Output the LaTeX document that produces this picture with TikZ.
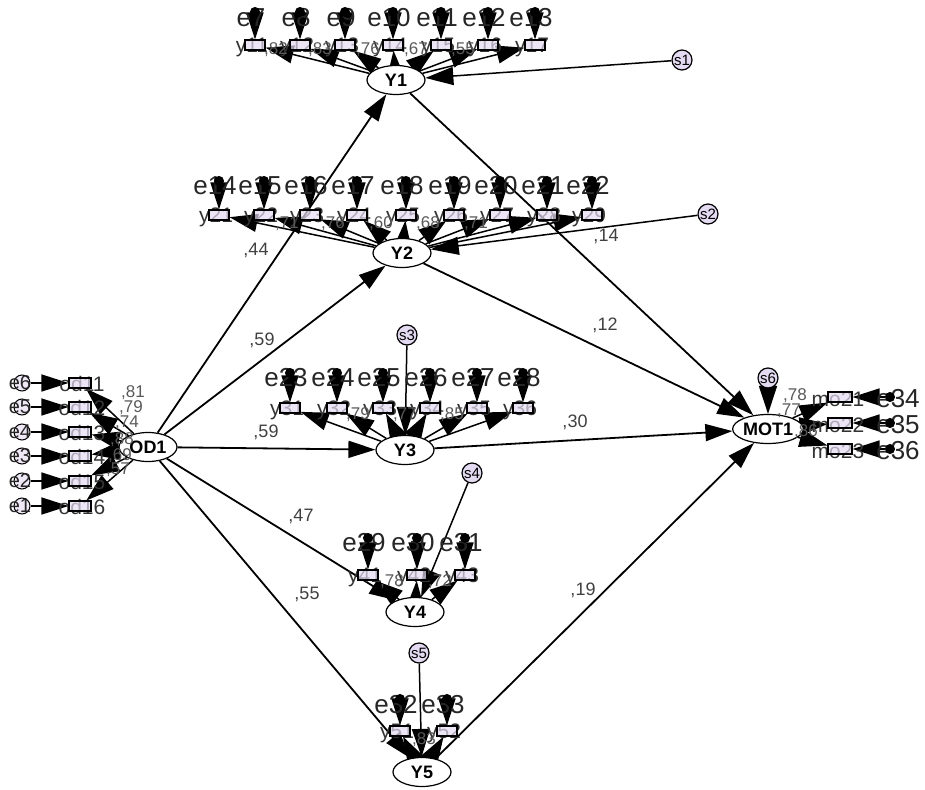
\documentclass[tikz,border=0pt]{standalone}
\usepackage{fontspec}
\setmainfont{Liberation Sans}
\usetikzlibrary{arrows.meta,shapes.geometric}
\definecolor{lav}{RGB}{228,218,242}
\pgfdeclarelayer{bg}
\pgfsetlayers{bg,main}
\begin{document}
\begin{tikzpicture}[x=1pt,y=-1pt,
 lat/.style={ellipse,draw,fill=white,line width=1.2pt,minimum width=58pt,minimum height=29pt,inner sep=0pt,font=\bfseries\fontsize{18}{18}\selectfont},
 ind/.style={draw,fill=lav,fill opacity=0.7,line width=1.1pt,minimum width=20pt,minimum height=10pt,inner sep=0pt},
 err/.style={circle,draw,fill=black,line width=1pt,minimum size=9pt,inner sep=0pt},
 errb/.style={circle,draw,fill=lav,fill opacity=0.6,line width=1pt,minimum size=16pt,inner sep=0pt},
 res/.style={circle,draw,fill=lav,line width=1.2pt,minimum size=20pt,inner sep=0pt,font=\fontsize{15}{15}\selectfont},
 elab/.style={font=\fontsize{26}{26}\selectfont,text=black!85,inner sep=0pt},
 ylab/.style={font=\fontsize{21}{21}\selectfont,text=black!80,inner sep=0pt},
 coef/.style={font=\fontsize{18}{18}\selectfont,text=black!75,inner sep=0pt},
 small/.style={font=\fontsize{17}{17}\selectfont,text=black!65,inner sep=0pt},
 big/.style={-{Triangle[length=28pt,width=18pt]},line width=1.5pt},
 ebig/.style={-{Triangle[length=27pt,width=17pt]},line width=1.5pt},
 pth/.style={-{Triangle[length=27pt,width=17pt]},line width=1.8pt}
]
\useasboundingbox (0,0) rectangle (925,789);

% latent variables
\node[lat] (Y1) at (396,80) {Y1};
\node[lat] (Y2) at (402,253) {Y2};
\node[lat] (Y3) at (405,450) {Y3};
\node[lat] (Y4) at (415,612) {Y4};
\node[lat] (Y5) at (422,772) {Y5};
\node[lat] (OD1) at (148,447) {OD1};
\node[lat,minimum width=60pt] (MOT1) at (768,429) {MOT1};

% residuals
\node[res] (s1) at (682,60) {s1};
\node[res] (s2) at (708,214) {s2};
\node[res] (s3) at (407,335) {s3};
\node[res] (s4) at (472,473) {s4};
\node[res] (s5) at (419,653) {s5};
\node[res] (s6) at (768,378) {s6};

% Y1 block
\foreach \x [count=\i] in {255,300,345,393,441,488,535} {
  \pgfmathtruncatemacro\en{\i+6}
  \node[elab] at (\x-4,18) {e\en};
  \node[err] (ea\i) at (\x,12) {};
  \node[ylab] at (\x-3,47) {y1\i};
  \node[ind] (ba\i) at (\x,45) {};
  \begin{pgfonlayer}{bg}
  \draw[ebig] (ea\i) -- (ba\i);
  \draw[big] (Y1) -- (ba\i);
  \end{pgfonlayer}
}
\foreach \x/\t in {276/{,82},320/{,83},368/{,76},416/{,67},463/{,55}}
  \node[small] at (\x,50) {\t};

% Y2 block
\foreach \x [count=\i] in {219,264,310,357,406,454,500,547,592} {
  \pgfmathtruncatemacro\en{\i+13}
  \node[elab] at (\x-4,186) {e\en};
  \node[err] (eb\i) at (\x,181) {};
  \node[ylab] at (\x-3,217) {y2\i};
  \node[ind] (bb\i) at (\x,215) {};
  \begin{pgfonlayer}{bg}
  \draw[ebig] (eb\i) -- (bb\i);
  \draw[big] (Y2) -- (bb\i);
  \end{pgfonlayer}
}
\foreach \x/\t in {287/{,71},333/{,76},381/{,60},428/{,68},476/{,71}}
  \node[small] at (\x,224) {\t};

% Y3 block
\foreach \x [count=\i] in {290,337,383,430,477,523} {
  \pgfmathtruncatemacro\en{\i+22}
  \node[elab] at (\x-4,378) {e\en};
  \node[err] (ec\i) at (\x,373) {};
  \node[ylab] at (\x-3,410) {y3\i};
  \node[ind] (bc\i) at (\x,408) {};
  \begin{pgfonlayer}{bg}
  \draw[ebig] (ec\i) -- (bc\i);
  \draw[big] (Y3) -- (bc\i);
  \end{pgfonlayer}
}
\foreach \x/\t in {358/{,79},405/{,77},452/{,85}}
  \node[small] at (\x,415) {\t};

% Y4 block
\foreach \x [count=\i] in {368,417,465} {
  \pgfmathtruncatemacro\en{\i+28}
  \node[elab] at (\x-4,543) {e\en};
  \node[err] (ed\i) at (\x,538) {};
  \node[ylab] at (\x-3,577) {y4\i};
  \node[ind] (bd\i) at (\x,575) {};
  \begin{pgfonlayer}{bg}
  \draw[ebig] (ed\i) -- (bd\i);
  \draw[big] (Y4) -- (bd\i);
  \end{pgfonlayer}
}
\node[small] at (392,582) {,78};
\node[small] at (440,582) {,72};

% Y5 block
\foreach \x [count=\i] in {400,447} {
  \pgfmathtruncatemacro\en{\i+31}
  \node[elab] at (\x-4,705) {e\en};
  \node[err] (ee\i) at (\x,699) {};
  \node[ylab] at (\x-3,733) {y5\i};
  \node[ind] (be\i) at (\x,731) {};
  \begin{pgfonlayer}{bg}
  \draw[ebig] (ee\i) -- (be\i);
  \draw[big] (Y5) -- (be\i);
  \end{pgfonlayer}
}
\node[small] at (424,740) {,83};

% OD1 block
\foreach \y [count=\i] in {383,407,432,456,481,506} {
  \pgfmathtruncatemacro\en{7-\i}
  \node[errb] (eo\i) at (22,\y) {};
  \node[font=\fontsize{20}{20}\selectfont,text=black!85,inner sep=0pt] at (20,\y) {e\en};
  \node[ylab] at (82,\y+1) {od1\i};
  \node[ind,minimum width=22pt] (bo\i) at (80,\y) {};
  \begin{pgfonlayer}{bg}
  \draw[ebig] (eo\i) -- (bo\i);
  \draw[big] (OD1) -- (bo\i);
  \end{pgfonlayer}
}
\node[small] at (133,393) {,81};
\node[small] at (131,408) {,79};
\node[small] at (127,423) {,74};
\node[small] at (122,440) {,88};
\node[small] at (120,456) {,69};
\node[small] at (118,470) {,57};

% MOT1 block
\foreach \y [count=\i] in {397,423,449} {
  \pgfmathtruncatemacro\en{\i+33}
  \node[elab] at (898,\y+2) {e\en};
  \node[err] (em\i) at (890,\y) {};
  \node[ylab] at (838,\y+2) {mo2\i};
  \node[ind,minimum width=24pt] (bm\i) at (840,\y) {};
  \begin{pgfonlayer}{bg}
  \draw[ebig] (em\i) -- (bm\i);
  \draw[big] (MOT1) -- (bm\i);
  \end{pgfonlayer}
}
\node[small] at (795,396) {,78};
\node[small] at (789,411) {,77};
\node[small] at (806,432) {,86};

\begin{pgfonlayer}{bg}
% residual arrows
\draw[big] (s1) -- (Y1);
\draw[big] (s2) -- (Y2);
\draw[big] (s3) -- (Y3);
\draw[big] (s4) -- (Y4);
\draw[big] (s5) -- (Y5);
\draw[big] (s6) -- (MOT1);

% structural paths
\draw[pth] (OD1) -- (Y1);
\draw[pth] (OD1) -- (Y2);
\draw[pth] (OD1) -- (Y3);
\draw[pth] (OD1) -- (Y4);
\draw[pth] (OD1) -- (Y5);
\draw[pth] (Y1) -- (MOT1);
\draw[pth] (Y2) -- (MOT1);
\draw[pth] (Y3) -- (MOT1);
\draw[pth] (Y5) -- (MOT1);
\end{pgfonlayer}

% coefficients
\node[coef] at (256,250) {,44};
\node[coef] at (262,340) {,59};
\node[coef] at (266,432) {,59};
\node[coef] at (301,516) {,47};
\node[coef] at (307,594) {,55};
\node[coef] at (606,236) {,14};
\node[coef] at (605,325) {,12};
\node[coef] at (575,422) {,30};
\node[coef] at (583,590) {,19};
\end{tikzpicture}
\end{document}
